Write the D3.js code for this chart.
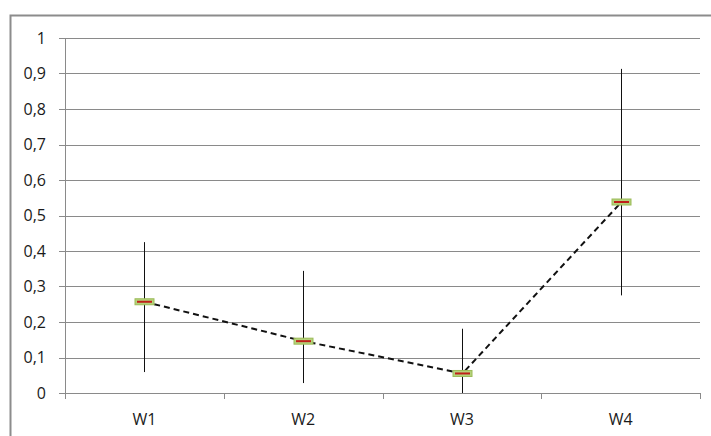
<!DOCTYPE html>
<html>
<head>
<meta charset="utf-8">
<script src="https://cdn.jsdelivr.net/npm/d3@7"></script>
<style>
	body { margin: 0; background: #fff; }
	text { font-family: 'Open Sans', sans-serif; fill: #1a1a1a; }
</style>
</head>
<body>
<div id="chart"></div>
<script>
// data
const weeks = ['W1', 'W2', 'W3', 'W4'];
const means = [0.257, 0.146, 0.055, 0.538];
const lows = [0.059, 0.028, 0.0, 0.275];
const highs = [0.425, 0.344, 0.181, 0.913];
const yTicks = [0, 0.1, 0.2, 0.3, 0.4, 0.5, 0.6, 0.7, 0.8, 0.9, 1];

const rows = weeks.map((w, i) => ({ week: w, mean: means[i], low: lows[i], high: highs[i] }));

const W = 711, H = 436;
const margin = { top: 38, right: 11, bottom: 43, left: 65 };
const width = W - margin.left - margin.right;
const height = H - margin.top - margin.bottom;

const root = d3.select('#chart').append('svg').attr('width', W).attr('height', H);

// outer chart frame (clipped at right/bottom like the source)
root.append('rect')
	.attr('x', 10.5).attr('y', 15.5)
	.attr('width', W + 10).attr('height', H + 10)
	.attr('fill', 'none')
	.attr('stroke', '#8c8c8c')
	.attr('stroke-width', 2);

const svg = root.append('g').attr('transform', `translate(${margin.left}, ${margin.top})`);

const xScale = d3.scaleBand().domain(weeks).range([0, width]);
const yScale = d3.scaleLinear().domain([0, 1]).range([height, 0]);

// gridlines
svg.append('g')
	.selectAll('line')
	.data(yTicks)
	.join('line')
	.attr('x1', -6)
	.attr('x2', width)
	.attr('y1', (d) => Math.round(yScale(d)) + 0.5)
	.attr('y2', (d) => Math.round(yScale(d)) + 0.5)
	.style('stroke', '#8a8a8a');

// y labels
svg.append('g')
	.selectAll('text')
	.data(yTicks)
	.join('text')
	.attr('x', -19)
	.attr('y', (d) => yScale(d))
	.attr('dy', '0.35em')
	.attr('text-anchor', 'end')
	.style('font-size', '16px')
	.text((d) => String(d).replace('.', ','));

// y axis line
svg.append('line')
	.attr('x1', 0.5).attr('x2', 0.5)
	.attr('y1', 0).attr('y2', height)
	.style('stroke', '#8a8a8a');

// category tick marks
const bounds = weeks.map((w) => xScale(w)).concat([width]);
svg.append('g')
	.selectAll('line')
	.data(bounds)
	.join('line')
	.attr('x1', (d) => Math.round(d) + 0.5)
	.attr('x2', (d) => Math.round(d) + 0.5)
	.attr('y1', height)
	.attr('y2', height + 6)
	.style('stroke', '#8a8a8a');

// category labels
svg.append('g')
	.selectAll('text')
	.data(weeks)
	.join('text')
	.attr('x', (d) => xScale(d) + xScale.bandwidth() / 2)
	.attr('y', height + 26)
	.attr('dy', '0.35em')
	.attr('text-anchor', 'middle')
	.style('font-size', '16px')
	.text((d) => d);

const cx = (d) => Math.round(xScale(d.week) + xScale.bandwidth() / 2) + 0.5;

// error bars
svg.append('g')
	.selectAll('line')
	.data(rows)
	.join('line')
	.attr('x1', cx).attr('x2', cx)
	.attr('y1', (d) => yScale(d.low))
	.attr('y2', (d) => yScale(d.high))
	.style('stroke', '#111')
	.style('stroke-width', 1);

// dashed mean line
const meanLine = d3.line().x(cx).y((d) => yScale(d.mean));
svg.append('path')
	.data([rows])
	.attr('d', meanLine)
	.style('fill', 'none')
	.style('stroke', '#111')
	.style('stroke-width', 2)
	.style('stroke-dasharray', '6, 4');

// markers
const marks = svg.append('g').selectAll('g').data(rows).join('g')
	.attr('transform', (d) => `translate(${cx(d)}, ${yScale(d.mean)})`);

marks.append('rect')
	.attr('x', -9.5).attr('y', -3)
	.attr('width', 19).attr('height', 6)
	.style('fill', '#b5d27a')
	.style('stroke', '#9bbb59')
	.style('stroke-width', 1);

marks.append('line')
	.attr('x1', -7.5).attr('x2', 7.5)
	.style('stroke', '#c0201a')
	.style('stroke-width', 2);
</script>
</body>
</html>
